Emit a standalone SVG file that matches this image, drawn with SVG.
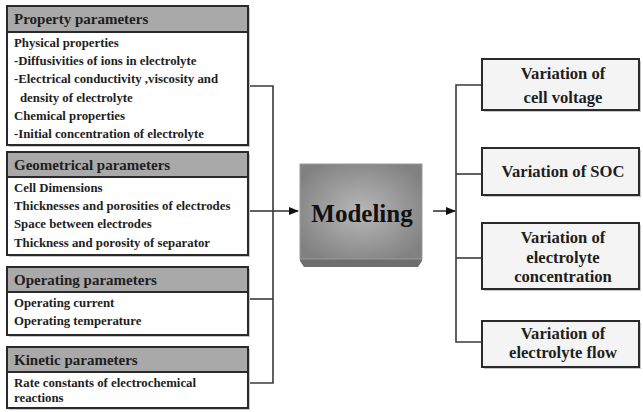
<svg xmlns="http://www.w3.org/2000/svg" width="643" height="412" viewBox="0 0 643 412">
<defs>
<style>
.box{fill:#ffffff;stroke:#2a2a2a;stroke-width:2}
.hdr{fill:#a9a9a9;stroke:#2a2a2a;stroke-width:2}
.out{fill:#f4f4f4;stroke:#2a2a2a;stroke-width:2}
.sh{fill:#c8c8c8}
text{font-family:'Liberation Serif','DejaVu Serif',serif;font-weight:bold;fill:#1e1e1e}
.h{font-size:15px}
.b{font-size:12.8px}
.r{font-size:16.6px;text-anchor:middle}
.m{font-size:25px;text-anchor:middle;fill:#111}
.ln{fill:none;stroke:#3a3a3a;stroke-width:1.6}
</style>
<marker id="ah" markerWidth="10" markerHeight="8" refX="9" refY="4" orient="auto" markerUnits="userSpaceOnUse">
<path d="M0,0 L10,4 L0,8 Z" fill="#111"/>
</marker>
<radialGradient id="mg" cx="0.5" cy="0.5" r="0.6">
<stop offset="0" stop-color="#b8b8b8"/>
<stop offset="1" stop-color="#818181"/>
</radialGradient>
</defs>

<g id="connectors">
<path class="ln" d="M248,86 H273 V383 H248"/>
<path class="ln" d="M248,211 H273"/>
<path class="ln" d="M248,299 H273"/>
<path class="ln" d="M273,211 H298" marker-end="url(#ah)"/>
<path class="ln" d="M433,211 H455" marker-end="url(#ah)"/>
<path class="ln" d="M482,85 H456 V342 H482"/>
<path class="ln" d="M456,174 H482"/>
<path class="ln" d="M456,258 H482"/>
</g>

<g id="property">
<rect class="sh" x="9" y="8" width="241" height="139"/>
<rect class="box" x="7" y="6" width="241" height="139"/>
<rect class="hdr" x="7" y="6" width="241" height="26"/>
<text class="h" x="14" y="24">Property parameters</text>
<text class="b" x="14" y="47">Physical properties</text>
<text class="b" x="14" y="65">-Diffusivities of ions in electrolyte</text>
<text class="b" x="14" y="83">-Electrical conductivity ,viscosity and</text>
<text class="b" x="20" y="102">density of electrolyte</text>
<text class="b" x="14" y="120">Chemical properties</text>
<text class="b" x="14" y="138">-Initial concentration of electrolyte</text>
</g>

<g id="geometrical">
<rect class="sh" x="9" y="154" width="241" height="103"/>
<rect class="box" x="7" y="152" width="241" height="103"/>
<rect class="hdr" x="7" y="152" width="241" height="25"/>
<text class="h" x="14" y="170">Geometrical parameters</text>
<text class="b" x="14" y="192">Cell Dimensions</text>
<text class="b" x="14" y="210">Thicknesses and porosities of electrodes</text>
<text class="b" x="14" y="228">Space between electrodes</text>
<text class="b" x="14" y="247">Thickness and porosity of separator</text>
</g>

<g id="operating">
<rect class="sh" x="9" y="269" width="241" height="68"/>
<rect class="box" x="7" y="267" width="241" height="68"/>
<rect class="hdr" x="7" y="267" width="241" height="25"/>
<text class="h" x="14" y="285">Operating parameters</text>
<text class="b" x="14" y="307">Operating current</text>
<text class="b" x="14" y="325">Operating temperature</text>
</g>

<g id="kinetic">
<rect class="sh" x="9" y="349" width="241" height="61"/>
<rect class="box" x="7" y="347" width="241" height="61"/>
<rect class="hdr" x="7" y="347" width="241" height="25"/>
<text class="h" x="14" y="365">Kinetic parameters</text>
<text class="b" x="14" y="387">Rate constants of electrochemical</text>
<text class="b" x="14" y="402">reactions</text>
</g>

<g id="modeling">
<path d="M300,258 H422 V261 L418,267 H304 L300,261 Z" fill="#6e6e6e"/>
<rect x="300" y="164" width="122" height="95" fill="url(#mg)" stroke="#9a9a9a" stroke-width="1"/>
<text class="m" x="362" y="222">Modeling</text>
</g>

<g id="out1">
<rect class="sh" x="484" y="61" width="157" height="51"/>
<rect class="out" x="482" y="59" width="157" height="51"/>
<text class="r" x="563" y="79">Variation of</text>
<text class="r" x="563" y="103">cell voltage</text>
</g>

<g id="out2">
<rect class="sh" x="484" y="150" width="157" height="47"/>
<rect class="out" x="482" y="148" width="157" height="47"/>
<text class="r" x="563" y="177">Variation of SOC</text>
</g>

<g id="out3">
<rect class="sh" x="484" y="225" width="157" height="66"/>
<rect class="out" x="482" y="223" width="157" height="66"/>
<text class="r" x="563" y="243">Variation of</text>
<text class="r" x="563" y="263">electrolyte</text>
<text class="r" x="563" y="282">concentration</text>
</g>

<g id="out4">
<rect class="sh" x="484" y="323" width="157" height="46"/>
<rect class="out" x="482" y="321" width="157" height="46"/>
<text class="r" x="563" y="339">Variation of</text>
<text class="r" x="563" y="358">electrolyte flow</text>
</g>
</svg>
